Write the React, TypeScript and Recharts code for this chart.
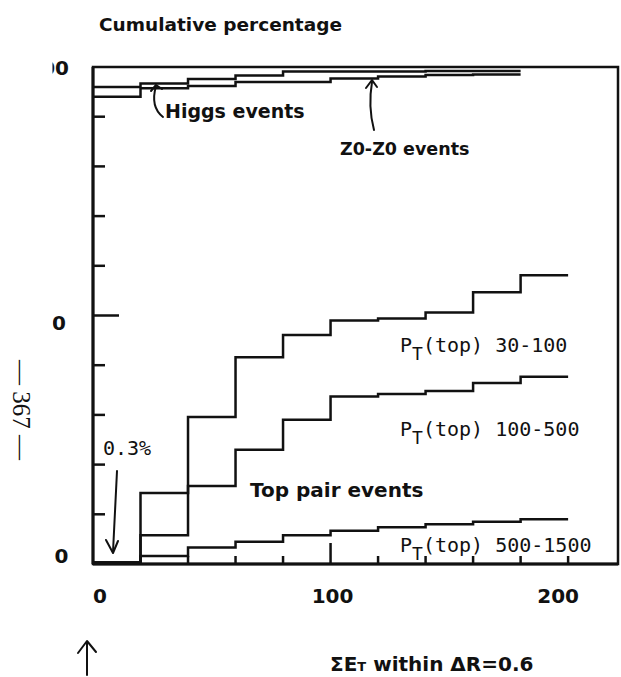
import React from "react";
import { LineChart, Line, XAxis, YAxis, ReferenceArea } from "recharts";

// Bin edges of Sum E_T within dR=0.6 (GeV)
const topBinEdges = [0, 20, 40, 60, 80, 100, 120, 140, 160, 180, 200];
const bosonBinEdges = [0, 20, 40, 60, 80, 100, 120, 140, 160, 180];

// Cumulative percentages
const higgsPct = [96.0, 96.7, 97.6, 98.3, 99.1, 99.1, 99.1, 99.2, 99.2, 99.2];
const zzPct = [94.0, 95.7, 96.2, 97.0, 97.0, 97.7, 98.1, 98.4, 98.5, 98.5];
const pt30to100Pct = [0.3, 14.3, 29.6, 41.6, 46.1, 49.0, 49.4, 50.6, 54.7, 58.1, 58.1];
const pt100to500Pct = [0.3, 5.8, 15.7, 23.0, 29.0, 33.7, 34.2, 34.8, 36.4, 37.7, 37.7];
const pt500to1500Pct = [0.3, 1.6, 3.3, 4.5, 5.8, 6.7, 7.4, 8.0, 8.5, 9.0, 9.0];

const xTicks = [0, 20, 40, 60, 80, 100, 120, 140, 160, 180, 200];
const xLabelled = ["0", "100", "200"];
const yTicks = [0, 10, 20, 30, 40, 50, 60, 70, 80, 90, 100];
const yLabelled = ["0", "50", "100"];

const toSeries = (xs: number[], ys: number[]) => xs.map((x, i) => ({ x, y: ys[i] }));

const higgsData = toSeries(bosonBinEdges, higgsPct);
const zzData = toSeries(bosonBinEdges, zzPct);
const pt30Data = toSeries(topBinEdges, pt30to100Pct);
const pt100Data = toSeries(topBinEdges, pt100to500Pct);
const pt500Data = toSeries(topBinEdges, pt500to1500Pct);

const INK = "#111";
const BOLD_FONT = "'DejaVu Sans', Verdana, sans-serif";
const MONO_FONT = "'DejaVu Sans Mono', 'Liberation Mono', monospace";

const xLabelShift: Record<string, number> = { "0": 7, "100": 2, "200": -10 };

const XTick = (props: any) => {
  const { x, y, payload } = props;
  const v = payload.value;
  const len = v === 100 ? 21 : 8;
  const key = String(v);
  return (
    <g>
      {v > 0 && (
        <line x1={x} y1={y} x2={x} y2={y - len} stroke={INK} strokeWidth={2.5} />
      )}
      {xLabelled.includes(key) && (
        <text
          x={x + (xLabelShift[key] || 0)}
          y={y + 39}
          textAnchor="middle"
          fontFamily={BOLD_FONT}
          fontWeight="bold"
          fontSize={20}
          fill={INK}
        >
          {key}
        </text>
      )}
    </g>
  );
};

const yLabelShift: Record<string, [number, number]> = {
  "100": [-24, 8],
  "50": [-27, 14.5],
  "0": [-24.5, -1],
};

const YTick = (props: any) => {
  const { x, y, payload, index } = props;
  const v = payload.value;
  const key = String(v);
  const len = v === 50 ? 26 : 12;
  const shift = yLabelShift[key] || [0, 0];
  const clipId = `ylabclip-${index}`;
  return (
    <g>
      <defs>
        <clipPath id={clipId}>
          <rect x={52.5} y={0} width={40} height={677} />
        </clipPath>
      </defs>
      {v > 0 && v < 100 && (
        <line x1={x} y1={y} x2={x + len} y2={y} stroke={INK} strokeWidth={2.5} />
      )}
      {yLabelled.includes(key) && (
        <text
          x={x + shift[0]}
          y={y + shift[1]}
          textAnchor="end"
          fontFamily={BOLD_FONT}
          fontWeight="bold"
          fontSize={20}
          fill={INK}
          clipPath={`url(#${clipId})`}
        >
          {key}
        </text>
      )}
    </g>
  );
};

const Arrow = ({ d, head }: { d: string; head: string }) => (
  <g fill="none" stroke={INK} strokeWidth={2} strokeLinecap="round" strokeLinejoin="round">
    <path d={d} />
    <path d={head} />
  </g>
);

const PtLabel = ({ x, y, range }: { x: number; y: number; range: string }) => (
  <text x={x} y={y} fontFamily={MONO_FONT} fontSize={20} fill={INK}>
    <tspan>P</tspan>
    <tspan dy={8} fontSize={18}>T</tspan>
    <tspan dy={-8}>{`(top) ${range}`}</tspan>
  </text>
);

export default function App() {
  return (
    <div
      style={{
        position: "absolute",
        left: 0,
        top: 0,
        width: 621,
        height: 677,
        background: "#fff",
        overflow: "hidden",
      }}
    >
      <LineChart
        width={621}
        height={677}
        margin={{ top: 67, right: 3, bottom: 83, left: 33 }}
      >
        <XAxis
          dataKey="x"
          type="number"
          domain={[0, 221]}
          ticks={xTicks}
          allowDataOverflow
          height={30}
          tickSize={0}
          tickMargin={0}
          tickLine={false}
          axisLine={{ stroke: INK, strokeWidth: 3 }}
          tick={<XTick />}
          interval={0}
        />
        <YAxis
          type="number"
          domain={[0, 100]}
          ticks={yTicks}
          width={60}
          tickSize={0}
          tickMargin={0}
          tickLine={false}
          axisLine={{ stroke: INK, strokeWidth: 3 }}
          tick={<YTick />}
          interval={0}
        />
        <ReferenceArea
          x1={0}
          x2={221}
          y1={0}
          y2={100}
          fill="none"
          fillOpacity={0}
          stroke={INK}
          strokeWidth={2.5}
          ifOverflow="visible"
        />
        <Line data={higgsData} dataKey="y" type="stepAfter" stroke={INK} strokeWidth={2.5} dot={false} isAnimationActive={false} />
        <Line data={zzData} dataKey="y" type="stepAfter" stroke={INK} strokeWidth={2.5} dot={false} isAnimationActive={false} />
        <Line data={pt30Data} dataKey="y" type="stepAfter" stroke={INK} strokeWidth={2.5} dot={false} isAnimationActive={false} />
        <Line data={pt100Data} dataKey="y" type="stepAfter" stroke={INK} strokeWidth={2.5} dot={false} isAnimationActive={false} />
        <Line data={pt500Data} dataKey="y" type="stepAfter" stroke={INK} strokeWidth={2.5} dot={false} isAnimationActive={false} />
      </LineChart>

      <svg
        width={621}
        height={677}
        style={{ position: "absolute", left: 0, top: 0, pointerEvents: "none" }}
      >
        <text x={99} y={31} fontFamily={BOLD_FONT} fontWeight="bold" fontSize={18.5} fill={INK}>
          Cumulative percentage
        </text>

        <text x={165} y={118} fontFamily={BOLD_FONT} fontWeight="bold" fontSize={19} fill={INK}>
          Higgs events
        </text>
        <Arrow d="M163,117 C154,110 152,100 156,86" head="M151,91 L156,85 L162,89" />

        <text x={340} y={155} fontFamily={BOLD_FONT} fontWeight="bold" fontSize={17.5} fill={INK}>
          Z0-Z0 events
        </text>
        <Arrow d="M374,130 C370,115 369,100 372,82" head="M366,88 L372,80 L377,87" />

        <PtLabel x={400} y={352} range="30-100" />
        <PtLabel x={400} y={436} range="100-500" />
        <PtLabel x={400} y={552} range="500-1500" />

        <text x={250} y={497} fontFamily={BOLD_FONT} fontWeight="bold" fontSize={20} fill={INK}>
          Top pair events
        </text>

        <text x={103} y={455} fontFamily={MONO_FONT} fontSize={20} fill={INK}>
          0.3%
        </text>
        <Arrow d="M117,471 L113,552" head="M106,540 L113,553 L118,541" />

        <text
          x={0}
          y={0}
          transform="translate(13,410) rotate(90)"
          textAnchor="middle"
          fontFamily="'Liberation Serif', serif"
          fontSize={25}
          fill={INK}
        >
          — 367 —
        </text>

        <Arrow d="M87,675 L87,642" head="M78,653 L87,641 L96,652" />

        <text x={330} y={671} fontFamily={BOLD_FONT} fontWeight="bold" fontSize={20} fill={INK}>
          ΣE<tspan fontSize={13}>T</tspan> within ΔR=0.6
        </text>
      </svg>
    </div>
  );
}
